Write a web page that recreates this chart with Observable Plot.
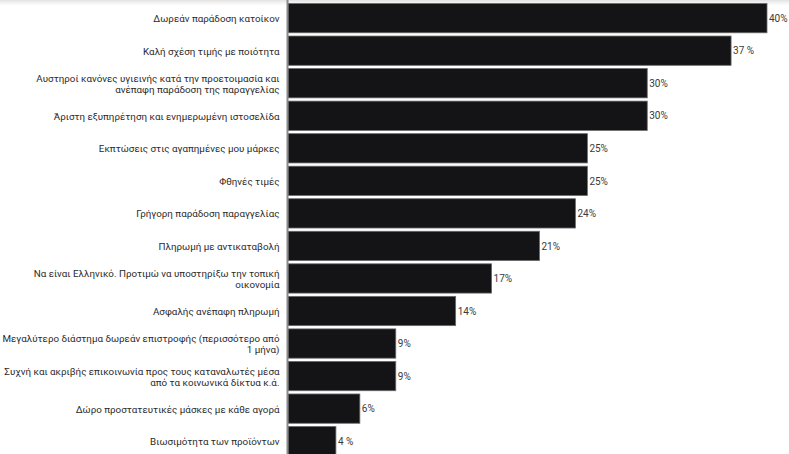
<!DOCTYPE html>
<html>
<head>
<meta charset="utf-8">
<script src="https://cdn.jsdelivr.net/npm/d3@7"></script>
<script src="https://cdn.jsdelivr.net/npm/@observablehq/plot@0.6"></script>
<style>
  html, body { margin: 0; padding: 0; }
  body {
    width: 789px; height: 454px; overflow: hidden;
    background: linear-gradient(to bottom, #e2e2e2 0px, #f4f4f4 3px, #ffffff 6px);
    font-family: Roboto, "Noto Sans", sans-serif;
  }
  svg { overflow: visible; display: block; }
</style>
</head>
<body>
<div id="chart"></div>
<script>
const categories = [
  "Δωρεάν παράδοση κατοίκον",
  "Καλή σχέση τιμής με ποιότητα",
  "Αυστηροί κανόνες υγιεινής κατά την προετοιμασία και\nανέπαφη παράδοση της παραγγελίας",
  "Άριστη εξυπηρέτηση και ενημερωμένη ιστοσελίδα",
  "Εκπτώσεις στις αγαπημένες μου μάρκες",
  "Φθηνές τιμές",
  "Γρήγορη παράδοση παραγγελίας",
  "Πληρωμή με αντικαταβολή",
  "Να είναι Ελληνικό. Προτιμώ να υποστηρίξω την τοπική\nοικονομία",
  "Ασφαλής ανέπαφη πληρωμή",
  "Μεγαλύτερο διάστημα δωρεάν επιστροφής (περισσότερο από\n1 μήνα)",
  "Συχνή και ακριβής επικοινωνία προς τους καταναλωτές μέσα\nαπό τα κοινωνικά δίκτυα κ.ά.",
  "Δώρο προστατευτικές μάσκες με κάθε αγορά",
  "Βιωσιμότητα των προϊόντων"
];
const values = [40, 37, 30, 30, 25, 25, 24, 21, 17, 14, 9, 9, 6, 4];
const valueLabels = ["40%", "37 %", "30%", "30%", "25%", "25%", "24%", "21%", "17%", "14%", "9%", "9%", "6%", "4 %"];

const data = categories.map((c, i) => ({category: c, value: values[i], label: valueLabels[i]}));

const chart = Plot.plot({
  width: 789,
  height: 454,
  marginTop: 0,
  marginBottom: 0,
  marginLeft: 288,
  marginRight: 22,
  style: {fontFamily: "Roboto, 'Noto Sans', sans-serif", background: "transparent"},
  x: {domain: [0, 40], axis: null},
  y: {domain: categories, range: [3.5, 455.8], paddingInner: 0.1, paddingOuter: 0, round: false, axis: null},
  marks: [
    Plot.barX(data, {x: "value", y: "category", fill: "#141416", stroke: "#6a6a6a", strokeWidth: 0.8}),
    Plot.ruleX([0], {stroke: "#8a8a8a", strokeWidth: 2, dx: -1}),
    Plot.text(data, {x: 0, y: "category", text: "category", textAnchor: "end", dx: -9,
      fontSize: 9.8, fill: "#2b2b2b", lineHeight: 1.12}),
    Plot.text(data, {x: "value", y: "category", text: "label", textAnchor: "start", dx: 1.5,
      fontSize: 10, fill: "#3a3a3a"})
  ]
});
document.getElementById("chart").appendChild(chart);
</script>
</body>
</html>
